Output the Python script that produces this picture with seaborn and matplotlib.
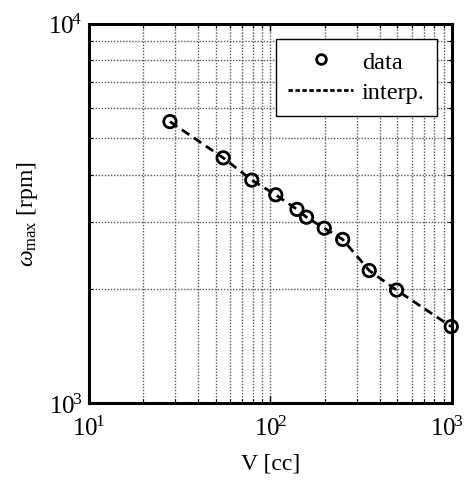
import numpy as np
import pandas as pd
import matplotlib
matplotlib.use("Agg")
import matplotlib.pyplot as plt
import matplotlib.transforms as mtransforms
from matplotlib.lines import Line2D
from matplotlib.ticker import FuncFormatter
import seaborn as sns

# Data
volume_cc = [28, 55, 79, 107, 140, 158, 198, 250, 350, 495, 990]
omega_max_rpm = [5520, 4430, 3870, 3540, 3240, 3090, 2890, 2700, 2235, 1985, 1590]

df = pd.DataFrame({"V": volume_cc, "omega": omega_max_rpm})

sns.set_style("ticks")
plt.rcParams["font.family"] = ["Liberation Serif", "DejaVu Serif"]
plt.rcParams["mathtext.fontset"] = "custom"
plt.rcParams["mathtext.rm"] = "Liberation Serif"
plt.rcParams["mathtext.it"] = "Liberation Serif:italic"
plt.rcParams["text.color"] = "black"
plt.rcParams["axes.labelcolor"] = "black"

fig, ax = plt.subplots(figsize=(4.67, 4.85), dpi=100)
fig.subplots_adjust(left=0.19, right=0.968, top=0.949, bottom=0.167)

dash = (0, (3.2, 2))

# Interpolation line
sns.lineplot(data=df, x="V", y="omega", ax=ax, color="black",
             linestyle=dash, linewidth=2, legend=False)

# Data points
sns.scatterplot(data=df, x="V", y="omega", ax=ax, marker="o", s=80,
                facecolor="none", edgecolor="black", linewidth=2,
                legend=False, zorder=3, clip_on=False)

ax.set_xscale("log")
ax.set_yscale("log")
ax.set_xlim(10, 1000)
ax.set_ylim(1000, 10000)
ax.set_xticks([10, 100, 1000])
ax.set_yticks([1000, 10000])

pow_fmt = FuncFormatter(lambda v, p: r"$10^{\!%d}$" % round(np.log10(v)))
ax.xaxis.set_major_formatter(pow_fmt)
ax.yaxis.set_major_formatter(pow_fmt)

ax.grid(True, which="both", linestyle=(0, (1, 1.2)), color="0.35", linewidth=1.0)
ax.tick_params(which="both", direction="in", top=True, right=True,
               labelsize=18, colors="black")
ax.tick_params(which="major", length=5, width=1)
ax.tick_params(which="minor", length=3, width=0.8)
ax.tick_params(axis="x", pad=9)
ax.tick_params(axis="y", pad=5)
for sp in ax.spines.values():
    sp.set_linewidth(2.2)
    sp.set_color("black")

ax.set_xlabel("V [cc]", fontsize=17, labelpad=9)
ax.set_ylabel(r"$\omega_{\mathrm{max}}$ [rpm]", fontsize=17, labelpad=6)

handles = [
    Line2D([], [], marker="o", linestyle="none", markerfacecolor="none",
           markeredgecolor="black", markeredgewidth=2, markersize=7),
    Line2D([], [], color="black", linestyle=(0, (1.6, 0.9)), linewidth=2),
]
leg = ax.legend(handles, ["data", "interp."], loc="upper right",
                fontsize=17.5, frameon=True, fancybox=False, framealpha=1,
                edgecolor="black", borderaxespad=0.62, handlelength=2.7,
                handletextpad=0.35, labelspacing=0.35, borderpad=0.5)
leg.get_frame().set_linewidth(1)

# nudge the rightmost x tick label so it stays inside the figure
fig.canvas.draw()
last_tick = ax.xaxis.get_major_ticks()[-1]
shift = mtransforms.ScaledTranslation(-5 / 100, 0, fig.dpi_scale_trans)
last_tick.label1.set_transform(last_tick.label1.get_transform() + shift)

fig.savefig("out.png", dpi=100)
